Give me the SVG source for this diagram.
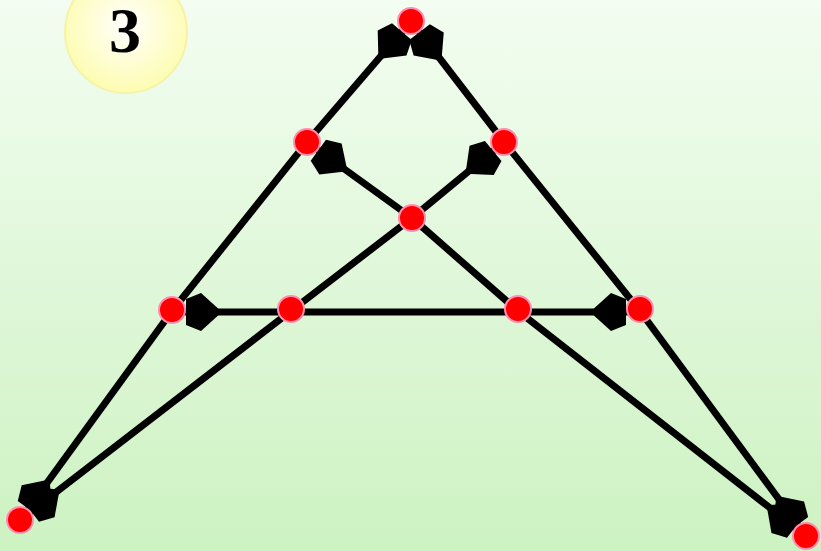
<svg xmlns="http://www.w3.org/2000/svg" width="821" height="551" viewBox="0 0 821 551">
<defs>
<linearGradient id="bg" x1="0" y1="0" x2="0" y2="1">
<stop offset="0" stop-color="#f3fdf1"/>
<stop offset="1" stop-color="#cdf2c2"/>
</linearGradient>
<radialGradient id="sun" cx="0.5" cy="0.45" r="0.55">
<stop offset="0" stop-color="#ffffff"/>
<stop offset="1" stop-color="#fdfcb0"/>
</radialGradient>
<marker id="pent" markerUnits="userSpaceOnUse" orient="auto" refX="0" refY="0" markerWidth="60" markerHeight="60" viewBox="-5 -30 60 60" overflow="visible">
<path d="M14,-13 L29,-19 L50,0 L29,19 L14,13 Z" fill="#000"/>
</marker>
<style>
.e{stroke:#000;stroke-width:7;fill:none}
.a{marker-start:url(#pent)}
.n{fill:#ff0000;stroke:#ff8fb0;stroke-width:2}
.lbl{font-family:"Liberation Serif",serif;font-weight:bold;font-size:64px;fill:#000}
</style>
</defs>
<rect width="821" height="551" fill="url(#bg)"/>
<g id="badge">
<circle cx="126" cy="32" r="61" fill="url(#sun)" stroke="#f4f3a8" stroke-width="2"/>
<text class="lbl" x="125" y="52" text-anchor="middle">3</text>
</g>
<g id="connectors">
<path class="e a" d="M411,21 L307,142"/>
<path class="e a" d="M411,21 L504,142"/>
<path class="e" d="M307,142 L172,311"/>
<path class="e" d="M504,142 L640,311"/>
<path class="e a" d="M307,142 L412,218"/>
<path class="e a" d="M504,142 L412,218"/>
<path class="e" d="M412,218 L291,311"/>
<path class="e" d="M412,218 L518,311"/>
<path class="e a" d="M172,312 L291,312"/>
<path class="e a" d="M640,312 L518,312"/>
<path class="e" d="M291,312 L518,312"/>
<path class="e a" d="M20,520 L172,311"/>
<path class="e a" d="M20,520 L291,311"/>
<path class="e a" d="M806,536 L640,311"/>
<path class="e a" d="M806,536 L518,311"/>
</g>
<g id="nA"><circle class="n" cx="411" cy="21" r="13"/></g>
<g id="nB"><circle class="n" cx="307" cy="142" r="13"/></g>
<g id="nC"><circle class="n" cx="504" cy="142" r="13"/></g>
<g id="nD"><circle class="n" cx="412" cy="218" r="13"/></g>
<g id="nE"><circle class="n" cx="172" cy="310" r="13"/></g>
<g id="nF"><circle class="n" cx="291" cy="309" r="13"/></g>
<g id="nG"><circle class="n" cx="518" cy="309" r="13"/></g>
<g id="nH"><circle class="n" cx="640" cy="309" r="13"/></g>
<g id="nI"><circle class="n" cx="20" cy="520" r="13"/></g>
<g id="nJ"><circle class="n" cx="806" cy="536" r="13"/></g>
</svg>
